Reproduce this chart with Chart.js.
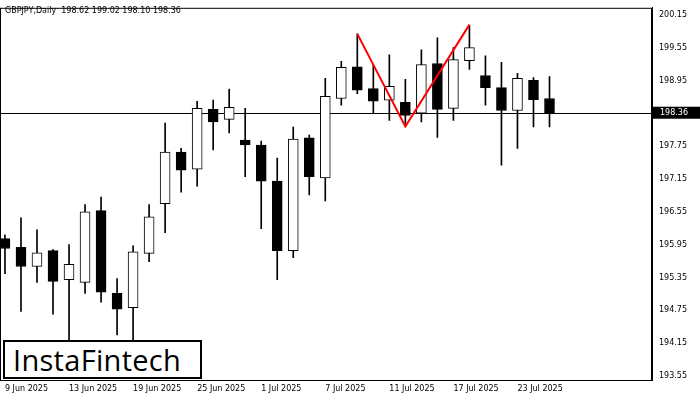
<!DOCTYPE html>
<html><head><meta charset="utf-8">
<script src="https://cdn.jsdelivr.net/npm/chart.js@4"></script>
<style>
html,body{margin:0;padding:0;background:#fff;}
#wrap{position:relative;width:700px;height:400px;}
#hdr{position:absolute;left:5px;top:6px;font:8px "DejaVu Sans",sans-serif;color:#000;}
#logo{position:absolute;left:3px;top:340px;border:2px solid #000;background:#fff;font:29px "Open Sans","DejaVu Sans",sans-serif;letter-spacing:0.3px;color:#000;line-height:35px;padding-left:8px;box-sizing:border-box;width:199px;height:39px;}
</style></head><body>
<div id="wrap"><canvas id="c" width="700" height="400"></canvas>
<div id="hdr">GBPJPY,Daily&nbsp; 198.62 199.02 198.10 198.36</div>
<div id="logo">InstaFintech</div></div>
<script>
const dates=["9 Jun 2025","10 Jun","11 Jun","12 Jun","13 Jun 2025","16 Jun","17 Jun","18 Jun","19 Jun 2025","20 Jun","23 Jun","24 Jun","25 Jun 2025","26 Jun","27 Jun","30 Jun","1 Jul 2025","2 Jul","3 Jul","4 Jul","7 Jul 2025","8 Jul","9 Jul","10 Jul","11 Jul 2025","14 Jul","15 Jul","16 Jul","17 Jul 2025","18 Jul","21 Jul","22 Jul","23 Jul 2025","24 Jul","25 Jul"];
const opens =[196.06,195.90,195.55,195.84,195.31,195.26,196.57,195.06,194.80,195.79,196.70,197.64,197.33,198.42,198.24,197.86,197.77,197.11,195.84,197.90,197.17,198.62,199.20,198.80,198.59,198.55,198.35,199.26,198.44,199.31,199.04,198.82,198.40,198.95,198.62];
const highs =[196.13,196.44,196.22,195.86,195.95,196.68,196.82,195.33,195.93,196.68,198.17,197.71,198.57,198.59,198.79,198.44,197.84,197.53,198.10,197.95,198.99,199.30,199.80,199.24,199.42,198.97,199.51,199.73,199.55,199.95,199.40,199.28,199.08,199.00,199.02];
const lows  =[195.42,194.73,195.26,194.68,193.90,195.06,194.90,194.30,193.95,195.64,196.17,196.91,197.02,197.68,197.99,197.19,196.24,195.31,195.71,196.86,196.75,198.50,198.71,198.35,198.22,198.15,198.19,197.91,198.22,199.15,198.50,197.40,197.71,198.10,198.10];
const closes=[195.88,195.55,195.80,195.28,195.59,196.55,195.08,194.77,195.82,196.46,197.64,197.31,198.44,198.19,198.46,197.77,197.11,195.84,197.88,197.19,198.66,199.19,198.77,198.57,198.84,198.31,199.24,198.42,199.33,199.55,198.82,198.40,198.99,198.60,198.36];
const yTicks=[193.55,194.15,194.75,195.35,195.95,196.55,197.15,197.75,198.36,198.95,199.55,200.15];
const patternX=[22,25,29];
const patternY=[199.80,198.11,199.97];
const lastPrice=198.36;

const idx=dates.map((_,i)=>i);
const wicks=idx.map(i=>({x:i,y:[lows[i],highs[i]]}));
const bodies=idx.map(i=>({x:i,y:[opens[i],closes[i]]}));
const fills=idx.map(i=>closes[i]<opens[i]?'#000':'#fff');

const priceLine={id:'pl',beforeDatasetsDraw(ch){const y=ch.scales.y.getPixelForValue(lastPrice),a=ch.chartArea,c=ch.ctx;c.save();c.strokeStyle='#000';c.lineWidth=1;c.beginPath();c.moveTo(a.left,Math.round(y)+0.5);c.lineTo(a.right,Math.round(y)+0.5);c.stroke();c.restore();},
afterDraw(ch){const y=ch.scales.y.getPixelForValue(lastPrice),a=ch.chartArea,c=ch.ctx;c.save();c.fillStyle='#000';c.fillRect(a.right,y-6,48,12);c.fillStyle='#fff';c.font='8px "DejaVu Sans"';c.textBaseline='middle';c.fillText(lastPrice.toFixed(2),a.right+8,y);c.restore();}};

new Chart(document.getElementById('c'),{
 data:{datasets:[
  {type:'bar',data:wicks,backgroundColor:'#000',borderWidth:0,barThickness:1,grouped:false,order:3},
  {type:'bar',data:bodies,backgroundColor:fills,borderColor:'#000',borderWidth:1,borderSkipped:false,barThickness:10,grouped:false,order:2},
  {type:'line',data:patternX.map((x,i)=>({x,y:patternY[i]})),borderColor:'#ff0000',borderWidth:2,pointRadius:0,order:1}
 ]},
 options:{responsive:false,animation:false,
  layout:{padding:{top:5,left:0,right:0,bottom:0}},
  plugins:{legend:{display:false},tooltip:{enabled:false}},
  scales:{
   x:{type:'linear',min:-0.31,max:40.4,offset:false,position:'bottom',
     grid:{display:false,drawTicks:true,tickLength:4,color:'#000',offset:false},
     border:{color:'#000',width:1},
     afterFit(s){s.height=20;},
     afterBuildTicks(s){s.ticks=idx.filter(i=>i%4===0).map(i=>({value:i}));},
     ticks:{autoSkip:false,maxRotation:0,align:'start',color:'#000',font:{size:8,family:'DejaVu Sans'},padding:0,callback:(v)=>dates[v]}},
   y:{type:'linear',position:'right',min:193.477,max:200.277,
     grid:{display:false,drawTicks:true,tickLength:4,color:'#000'},
     border:{color:'#000',width:1},
     afterFit(s){s.width=48;},
     afterBuildTicks(s){s.ticks=yTicks.map(v=>({value:v}));},
     ticks:{autoSkip:false,color:'#000',font:{size:8,family:'DejaVu Sans'},padding:3,callback:(v)=>v.toFixed(2)}}
  }},
 plugins:[priceLine,{id:'frame',afterDraw(ch){const a=ch.chartArea,c=ch.ctx;c.save();c.strokeStyle='#000';c.lineWidth=1;c.strokeRect(a.left+0.5,a.top+0.5,a.right-a.left-1,a.bottom-a.top);c.restore();}}]
});
</script></body></html>
